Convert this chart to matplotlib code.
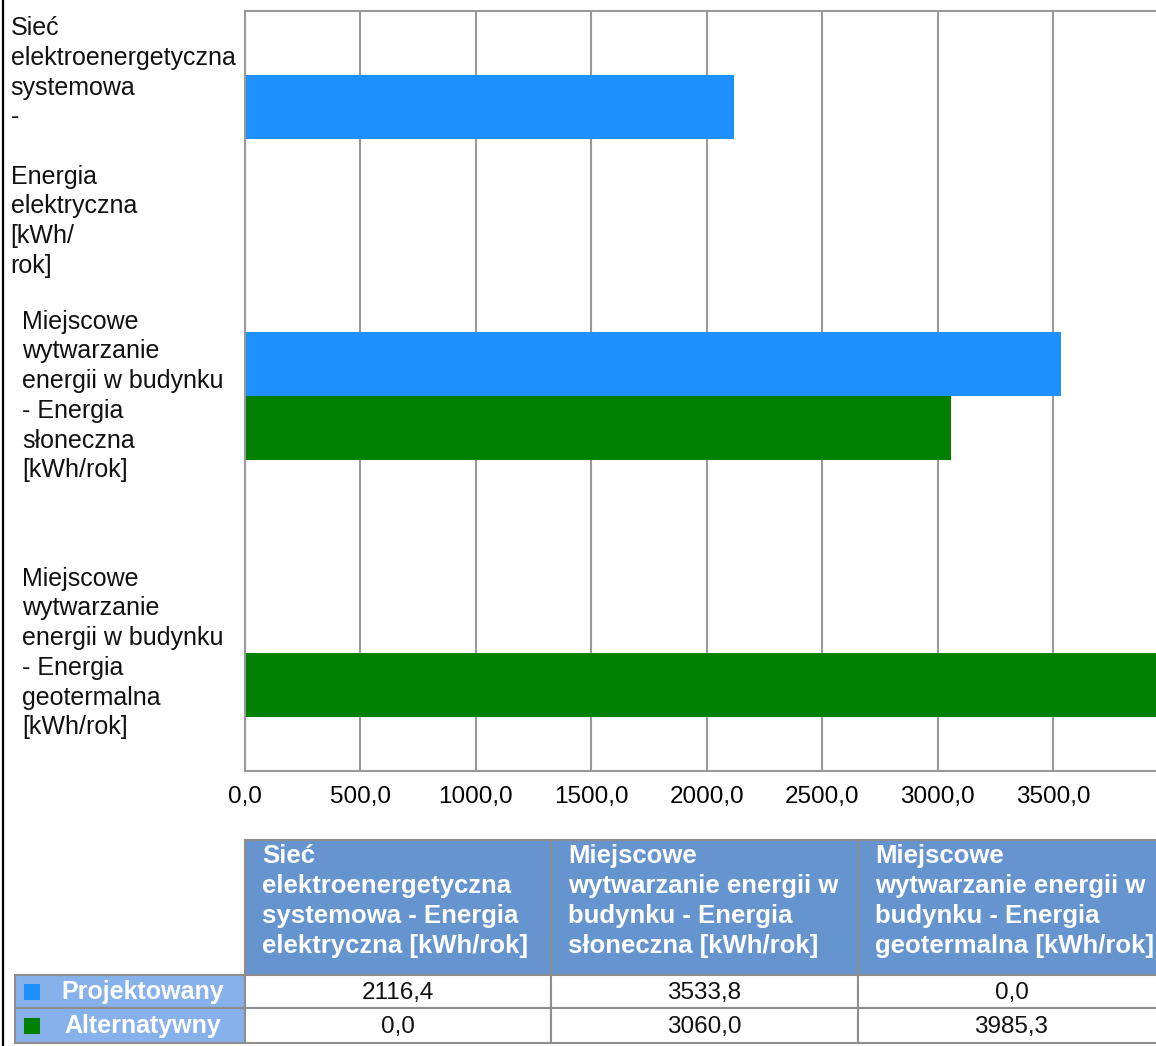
#!/usr/bin/env python3
"""
Energia elektryczna - Projektowany vs Alternatywny (wykres + tabela)
"""

import matplotlib
matplotlib.use('Agg')
import matplotlib.pyplot as plt
import matplotlib.transforms as mtransforms
from matplotlib.patches import Rectangle

plt.rcParams['font.family'] = ['Liberation Sans', 'DejaVu Sans']

# dane
categories = [
    'Sieć\nelektroenergetyczna\nsystemowa\n-\n\nEnergia\nelektryczna\n[kWh/\nrok]',
    'Miejscowe\nwytwarzanie\nenergii w budynku\n- Energia\nsłoneczna\n[kWh/rok]',
    'Miejscowe\nwytwarzanie\nenergii w budynku\n- Energia\ngeotermalna\n[kWh/rok]',
]
table_headers = [
    'Sieć\nelektroenergetyczna\nsystemowa - Energia\nelektryczna [kWh/rok]',
    'Miejscowe\nwytwarzanie energii w\nbudynku - Energia\nsłoneczna [kWh/rok]',
    'Miejscowe\nwytwarzanie energii w\nbudynku - Energia\ngeotermalna [kWh/rok]',
]
series_names = ['Projektowany', 'Alternatywny']
projektowany = [2116.4, 3533.8, 0.0]
alternatywny = [0.0, 3060.0, 3985.3]
x_ticks = [0, 500, 1000, 1500, 2000, 2500, 3000, 3500]

colors = ['#1E90FF', '#008000']
grid_color = '#999999'
header_bg = '#6694CE'
rowlabel_bg = '#86B1EA'
border = '#8E8E8E'

W, H = 1156, 1046


def fmt(v):
    return f'{v:.1f}'.replace('.', ',')


fig = plt.figure(figsize=(W / 100, H / 100), dpi=100)

# warstwa w pikselach (tabela, ramka)
bg = fig.add_axes([0, 0, 1, 1])
bg.set_xlim(0, W)
bg.set_ylim(H, 0)
bg.axis('off')
bg.plot([3, 3], [0, H], color='black', lw=1.6)

# wykres słupkowy
ax = fig.add_axes([245 / W, (H - 771) / H, 920 / W, 760 / H])
ypos = list(range(len(categories)))
h = 0.249
ax.barh([y - h / 2 for y in ypos], projektowany, height=h, color=colors[0], lw=0, zorder=2)
ax.barh([y + h / 2 for y in ypos], alternatywny, height=h, color=colors[1], lw=0, zorder=2)

ax.set_xlim(0, max(projektowany + alternatywny))
ax.set_ylim(2.459, -0.498)
ax.set_xticks(x_ticks)
ax.set_xticklabels([fmt(t) for t in x_ticks], fontsize=17.5)
ax.tick_params(axis='x', length=0, pad=11)
ax.set_yticks([])
ax.xaxis.grid(True, color=grid_color, lw=1.5, zorder=1)
ax.set_axisbelow(True)
for side in ['top', 'left', 'bottom']:
    ax.spines[side].set_color(grid_color)
    ax.spines[side].set_linewidth(1.5)
ax.spines['right'].set_visible(False)

# etykiety kategorii (pierwsza jest dosunięta do góry, jak w oryginale)
label_tr = ax.get_yaxis_transform()
for y, lbl in zip(ypos, categories):
    tr = label_tr
    if lbl.count('\n') > 6:
        tr = mtransforms.offset_copy(label_tr, fig=fig, y=-8, units='dots')
    ax.text(-122 / 920, y, lbl, transform=tr,
            ha='center', va='center', multialignment='left',
            fontsize=18, linespacing=1.30, color='#111111')

# tabela
col_x = [245, 551, 858, 1165]
head_top, head_bot = 840, 975
row_y = [975, 1008, 1043]
label_x0 = 15

for i, hdr in enumerate(table_headers):
    x0, x1 = col_x[i], col_x[i + 1]
    bg.add_patch(Rectangle((x0, head_top), x1 - x0, head_bot - head_top,
                           facecolor=header_bg, edgecolor=border, lw=1.5))
    bg.text(x0 + 17, head_top + 4, hdr, ha='left', va='top', color='white',
            fontsize=18.5, fontweight='bold', linespacing=1.32)

for r, (name, vals) in enumerate(zip(series_names, [projektowany, alternatywny])):
    y0, y1 = row_y[r], row_y[r + 1]
    bg.add_patch(Rectangle((label_x0, y0), col_x[0] - label_x0, y1 - y0,
                           facecolor=rowlabel_bg, edgecolor=border, lw=1.5))
    bg.add_patch(Rectangle((24, (y0 + y1) / 2 - 8), 16, 16,
                           facecolor=colors[r], edgecolor='none'))
    bg.text(143, (y0 + y1) / 2 + 1, name, ha='center', va='center', color='white',
            fontsize=18, fontweight='bold')
    for i, v in enumerate(vals):
        x0, x1 = col_x[i], col_x[i + 1]
        bg.add_patch(Rectangle((x0, y0), x1 - x0, y1 - y0,
                               facecolor='white', edgecolor=border, lw=1.5))
        bg.text((x0 + x1) / 2, (y0 + y1) / 2 + 1, fmt(v), ha='center', va='center',
                fontsize=17.5, color='#111111')

fig.savefig('out.png', dpi=100)
